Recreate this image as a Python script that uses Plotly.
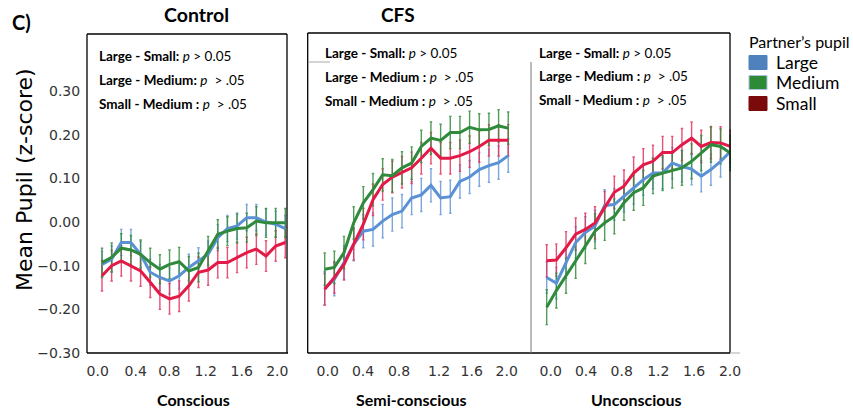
import plotly.graph_objects as go

# ---------------- data ----------------
time_s = [0.0, 0.1, 0.2, 0.3, 0.4, 0.5, 0.6, 0.7, 0.8, 0.9,
          1.0, 1.1, 1.2, 1.3, 1.4, 1.5, 1.6, 1.7, 1.8, 1.9]
tick_labels = ["0.0", "0.4", "0.8", "1.2", "1.6", "2.0"]
series_names = ["Large", "Medium", "Small"]

# Control (Conscious)
ctrl_large = [-0.097, -0.085, -0.047, -0.047, -0.074, -0.115, -0.127, -0.135, -0.123, -0.104,
              -0.089, -0.074, -0.036, -0.015, -0.009, 0.010, 0.010, 0.000, -0.005, -0.015]
ctrl_medium = [-0.093, -0.081, -0.060, -0.064, -0.074, -0.093, -0.108, -0.097, -0.091, -0.112,
               -0.104, -0.066, -0.028, -0.021, -0.015, -0.013, 0.002, -0.002, -0.002, -0.002]
ctrl_small = [-0.123, -0.100, -0.089, -0.100, -0.112, -0.138, -0.165, -0.176, -0.170, -0.146,
              -0.115, -0.110, -0.093, -0.093, -0.081, -0.070, -0.062, -0.078, -0.055, -0.047]
ctrl_err = [0.030, 0.033, 0.035]

# CFS Semi-conscious
semi_large = [-0.152, -0.131, -0.093, -0.051, -0.021, -0.017, 0.002, 0.017, 0.025, 0.055,
              0.062, 0.084, 0.055, 0.058, 0.093, 0.103, 0.120, 0.129, 0.136, 0.152]
semi_medium = [-0.108, -0.104, -0.070, -0.002, 0.044, 0.074, 0.108, 0.106, 0.124, 0.135,
               0.173, 0.192, 0.187, 0.205, 0.205, 0.217, 0.211, 0.212, 0.220, 0.215]
semi_small = [-0.154, -0.127, -0.097, -0.051, -0.005, 0.051, 0.086, 0.103, 0.114, 0.124,
              0.146, 0.169, 0.146, 0.146, 0.152, 0.161, 0.173, 0.187, 0.187, 0.187]
semi_err = [0.038, 0.037, 0.036]

# CFS Unconscious
unc_large = [-0.127, -0.140, -0.093, -0.047, -0.024, -0.009, 0.038, 0.040, 0.059, 0.077,
             0.097, 0.112, 0.112, 0.135, 0.127, 0.121, 0.105, 0.120, 0.139, 0.161]
unc_medium = [-0.195, -0.157, -0.123, -0.089, -0.055, -0.021, -0.002, 0.013, 0.044, 0.067,
              0.078, 0.105, 0.112, 0.118, 0.124, 0.139, 0.158, 0.177, 0.173, 0.158]
unc_small = [-0.089, -0.087, -0.059, -0.028, -0.017, -0.002, 0.033, 0.068, 0.082, 0.112,
             0.131, 0.139, 0.159, 0.159, 0.177, 0.192, 0.173, 0.182, 0.181, 0.173]
unc_err = [0.036, 0.040, 0.037]

panel_titles_bottom = ["Conscious", "Semi-conscious", "Unconscious"]
stat_lines = [
    ["<b>Large - Small:</b> <i>p</i> > 0.05",
     "<b>Large - Medium:</b> <i>p</i>  > .05",
     "<b>Small - Medium :</b> <i>p</i>  > .05"],
    ["<b>Large - Small:</b> <i>p</i> > 0.05",
     "<b>Large - Medium :</b> <i>p</i>  > .05",
     "<b>Small - Medium :</b> <i>p</i>  > .05"],
    ["<b>Large - Small:</b> <i>p</i> > 0.05",
     "<b>Large - Medium :</b> <i>p</i>  > .05",
     "<b>Small - Medium :</b> <i>p</i>  > .05"],
]

# ---------------- styling ----------------
W, H = 853, 410
line_col = {"Large": "#5a91d4", "Medium": "#2f8a3b", "Small": "#e31a47"}
err_col = {"Large": "rgba(100,150,215,0.85)", "Medium": "rgba(50,140,60,0.85)",
           "Small": "rgba(228,50,90,0.85)"}
legend_col = {"Large": "#4f81bd", "Medium": "#2e8b35", "Small": "#7b0a0a"}
FONT = "Lato"
TICKFONT = "DejaVu Sans"

def px(xp):
    return xp / W

def py(yp):
    return 1 - yp / H

fig = go.Figure()

panels = [
    ("x", {"Large": ctrl_large, "Medium": ctrl_medium, "Small": ctrl_small}, ctrl_err),
    ("x2", {"Large": semi_large, "Medium": semi_medium, "Small": semi_small}, semi_err),
    ("x3", {"Large": unc_large, "Medium": unc_medium, "Small": unc_small}, unc_err),
]
draw_order = ["Large", "Small", "Medium"]

for xa, data, errs in panels:
    for name in draw_order:
        e = errs[series_names.index(name)]
        fig.add_trace(go.Scatter(
            x=time_s, y=data[name], xaxis=xa, yaxis="y", mode="markers",
            marker=dict(size=2, opacity=0), showlegend=False, hoverinfo="skip",
            error_y=dict(type="constant", value=e, color=err_col[name],
                         thickness=1.4, width=1.2)))
    for name in draw_order:
        fig.add_trace(go.Scatter(
            x=time_s, y=data[name], xaxis=xa, yaxis="y", mode="lines",
            line=dict(color=line_col[name], width=3), name=name, showlegend=False))

# axes geometry
ybot, ytop = 353, 33
yr0 = -0.30
yscale = (353 - 91) / 0.6
yr1 = yr0 + (ybot - ytop) / yscale

def xaxis_cfg(l, r, x0px, scale, tv):
    return dict(domain=[px(l), px(r)],
                range=[-(x0px - l) / scale, (r - x0px) / scale],
                anchor="y", showgrid=False, zeroline=False, showline=False,
                automargin=False,
                tickmode="array", tickvals=tv, ticktext=tick_labels,
                ticks="outside", ticklen=5, tickcolor="rgba(0,0,0,0)",
                tickfont=dict(family=TICKFONT, size=14, color="#333333"))

s1 = 96.47
s2 = 96.6
tv1 = [(p - 102) / s1 for p in [97.7, 135.7, 169.3, 205.7, 241.7, 277.3]]
tv2 = [(p - 324.7) / s2 for p in [327.7, 363, 399, 439, 471.7, 506.7]]
tv3 = [(p - 546.7) / s2 for p in [550.7, 586, 621.7, 658.3, 694, 730]]

fig.update_layout(
    width=W, height=H, autosize=False,
    margin=dict(l=0, r=0, t=0, b=0, pad=0, autoexpand=False),
    paper_bgcolor="white", plot_bgcolor="rgba(0,0,0,0)",
    showlegend=False,
    xaxis=xaxis_cfg(87, 287, 102, s1, tv1),
    xaxis2=xaxis_cfg(307.7, 531, 324.7, s2, tv2),
    xaxis3=xaxis_cfg(531, 731, 546.7, s2, tv3),
    yaxis=dict(domain=[py(ybot), py(ytop)], range=[yr0, yr1],
               showgrid=False, zeroline=False, showline=False, automargin=False,
               tickmode="array", tickvals=[-0.3, -0.2, -0.1, 0.0, 0.1, 0.2, 0.3],
               tickformat=".2f", ticks="outside", ticklen=3,
               tickcolor="rgba(0,0,0,0)",
               tickfont=dict(family=TICKFONT, size=14, color="#333333")),
)

shapes = []
def line(x0, y0, x1, y1, color="black", w=1.3):
    shapes.append(dict(type="line", xref="paper", yref="paper",
                       x0=px(x0), y0=py(y0), x1=px(x1), y1=py(y1),
                       line=dict(color=color, width=w)))

# Control box
line(87, 34, 287, 34)
line(87, 34, 87, 353)
line(287, 34, 287, 353)
line(87, 353, 288, 353, w=1.6)
# CFS box
line(307.7, 33, 730, 33)
line(307.7, 33, 307.7, 353)
line(730, 33, 730, 353)
line(307.7, 353, 730, 353, w=1.6)
line(730, 353, 740, 353, color="#bbbbbb", w=1.2)
# inner separators
line(531, 62, 531, 353, color="#777777", w=1.0)
line(309, 62, 330, 62, color="#aaaaaa", w=1.0)

# legend swatches
leg_y = [62.5, 82.5, 103.5]
for name, yc in zip(series_names, leg_y):
    shapes.append(dict(type="rect", xref="paper", yref="paper",
                       x0=px(749), x1=px(767), y0=py(yc - 7), y1=py(yc + 7),
                       fillcolor=legend_col[name],
                       line=dict(color="#a9c1dd" if name == "Medium" else legend_col[name], width=1)))
fig.update_layout(shapes=shapes)

ann = []
def text(x, y, t, size, xanchor="left", bold=False, family=FONT, color="black", angle=0):
    ann.append(dict(xref="paper", yref="paper", x=px(x), y=py(y), text=("<b>%s</b>" % t) if bold else t,
                    showarrow=False, xanchor=xanchor, yanchor="middle", textangle=angle,
                    font=dict(family=family, size=size, color=color)))

text(10, 22, "C)", 20, bold=True)
text(196, 14, "Control", 19.5, xanchor="center", bold=True)
text(398, 14, "CFS", 19, xanchor="center", bold=True)
text(25, 180, "Mean Pupil (z-score)", 22, xanchor="center", family="DejaVu Sans", angle=-90)

for (xx, c) in zip([193, 411, 636], panel_titles_bottom):
    text(xx, 399, c, 16, xanchor="center", bold=True)

stat_pos = [(96.7, [56, 80, 104]), (323.3, [53, 77, 101]), (537.3, [53, 76, 100])]
for (xl, ys), lines_ in zip(stat_pos, stat_lines):
    for yy, t in zip(ys, lines_):
        text(xl, yy, t, 13.5, xanchor="left")

text(747, 42, "Partner’s pupil", 16)
for name, yc in zip(series_names, leg_y):
    text(774, yc, name, 17.5)

fig.update_layout(annotations=ann)
fig.write_html("out.html")
